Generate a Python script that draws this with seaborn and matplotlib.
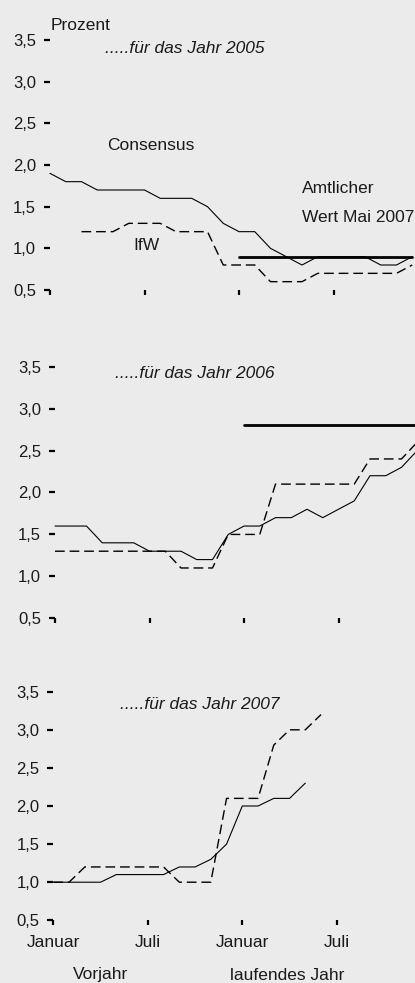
import numpy as np
import pandas as pd
import seaborn as sns
from matplotlib import pyplot as plt

# months counted from January of the previous year (0) to December of the current year (23)
months = np.arange(24)

# forecasts for 2005
consensus_2005 = [1.9, 1.8, 1.8, 1.7, 1.7, 1.7, 1.7, 1.6, 1.6, 1.6, 1.5, 1.3,
                  1.2, 1.2, 1.0, 0.9, 0.8, 0.9, 0.9, 0.9, 0.9, 0.8, 0.8, 0.9]
ifw_2005 = [1.2, 1.2, 1.2, 1.3, 1.3, 1.3, 1.2, 1.2, 1.2, 0.8, 0.8,
            0.8, 0.6, 0.6, 0.6, 0.7, 0.7, 0.7, 0.7, 0.7, 0.7, 0.8]  # from March
official_2005 = 0.9

# forecasts for 2006
consensus_2006 = [1.6, 1.6, 1.6, 1.4, 1.4, 1.4, 1.3, 1.3, 1.3, 1.2, 1.2, 1.5,
                  1.6, 1.6, 1.7, 1.7, 1.8, 1.7, 1.8, 1.9, 2.2, 2.2, 2.3, 2.5]
ifw_2006 = [1.3, 1.3, 1.3, 1.3, 1.3, 1.3, 1.3, 1.3, 1.1, 1.1, 1.1, 1.5,
            1.5, 1.5, 2.1, 2.1, 2.1, 2.1, 2.1, 2.1, 2.4, 2.4, 2.4, 2.6]
official_2006 = 2.8

# forecasts for 2007 (until May / June of the current year)
consensus_2007 = [1.0, 1.0, 1.0, 1.0, 1.1, 1.1, 1.1, 1.1, 1.2, 1.2, 1.3, 1.5,
                  2.0, 2.0, 2.1, 2.1, 2.3]
ifw_2007 = [1.0, 1.0, 1.2, 1.2, 1.2, 1.2, 1.2, 1.2, 1.0, 1.0, 1.0, 2.1,
            2.1, 2.1, 2.8, 3.0, 3.0, 3.2]

y_ticks = [0.5, 1.0, 1.5, 2.0, 2.5, 3.0, 3.5]
y_labels = ["0,5", "1,0", "1,5", "2,0", "2,5", "3,0", "3,5"]
x_ticks = [0, 6, 12, 18]
x_labels = ["Januar", "Juli", "Januar", "Juli"]

W, H = 415, 983
BG = "#ebebeb"
INK = "#1a1a1a"

sns.set_theme(style="white")
plt.rcParams["font.family"] = ["Liberation Sans", "DejaVu Sans"]
plt.rcParams["figure.facecolor"] = BG
plt.rcParams["axes.facecolor"] = BG

fig = plt.figure(figsize=(W / 100, H / 100), dpi=100)


def box(left, top, right, bottom):
    # axes rectangle given in pixel coordinates of the reference
    return [left / W, 1 - bottom / H, (right - left) / W, (bottom - top) / H]


def label(x, y, s, **kw):
    fig.text(x / W, 1 - y / H, s, va="baseline", color=INK, fontsize=12.5, **kw)


def style_axes(ax, xmax, show_months=False):
    ax.set_xlim(0, xmax)
    ax.set_ylim(0.5, 3.5)
    sns.despine(ax=ax, left=True, bottom=True)
    ax.set_yticks(y_ticks)
    ax.set_yticklabels(y_labels)
    ax.set_xticks(x_ticks)
    ax.set_xticklabels(x_labels if show_months else [""] * 4)
    ax.tick_params(axis="y", direction="out", length=4, width=1.6, pad=6,
                   color="black", labelcolor=INK, labelsize=12, left=True)
    ax.tick_params(axis="x", direction="out", length=3.5, width=1.6, pad=7,
                   color="black", labelcolor=INK, labelsize=12.5, bottom=True)
    ax.set_xlabel("")
    ax.set_ylabel("")
    ax.grid(False)


def draw(ax, consensus, ifw, ifw_start, official=None):
    sns.lineplot(x=months[:len(consensus)], y=consensus, ax=ax, color="black",
                 linewidth=0.8, clip_on=False)
    sns.lineplot(x=months[ifw_start:ifw_start + len(ifw)], y=ifw, ax=ax, color="black",
                 linewidth=1.0, linestyle=(0, (7, 3.5)), clip_on=False)
    if official is not None:
        sns.lineplot(x=[12, 23], y=[official, official], ax=ax, color="black",
                     linewidth=2.0)


# panel 2005
ax1 = fig.add_axes(box(50, 40, 415, 290))
draw(ax1, consensus_2005, ifw_2005, 2, official_2005)
style_axes(ax1, 365 / 15.75)
label(51, 30, "Prozent")
label(105, 53, ".....für das Jahr 2005", style="italic")
label(107, 150, "Consensus")
label(133, 250, "IfW")
label(302, 193, "Amtlicher")
label(302, 222, "Wert Mai 2007")

# panel 2006
ax2 = fig.add_axes(box(55, 366.7, 415, 618.3))
draw(ax2, consensus_2006, ifw_2006, 0, official_2006)
style_axes(ax2, 360 / 15.75)
label(115, 378, ".....für das Jahr 2006", style="italic")

# panel 2007
ax3 = fig.add_axes(box(53.3, 691.7, 415, 920.3))
draw(ax3, consensus_2007, ifw_2007, 0)
style_axes(ax3, 361.7 / 15.75, show_months=True)
label(120, 709, ".....für das Jahr 2007", style="italic")
label(101, 979, "Vorjahr", ha="center")
label(287.5, 980, "laufendes Jahr", ha="center")

fig.savefig("out.png", dpi=100, facecolor=BG)
